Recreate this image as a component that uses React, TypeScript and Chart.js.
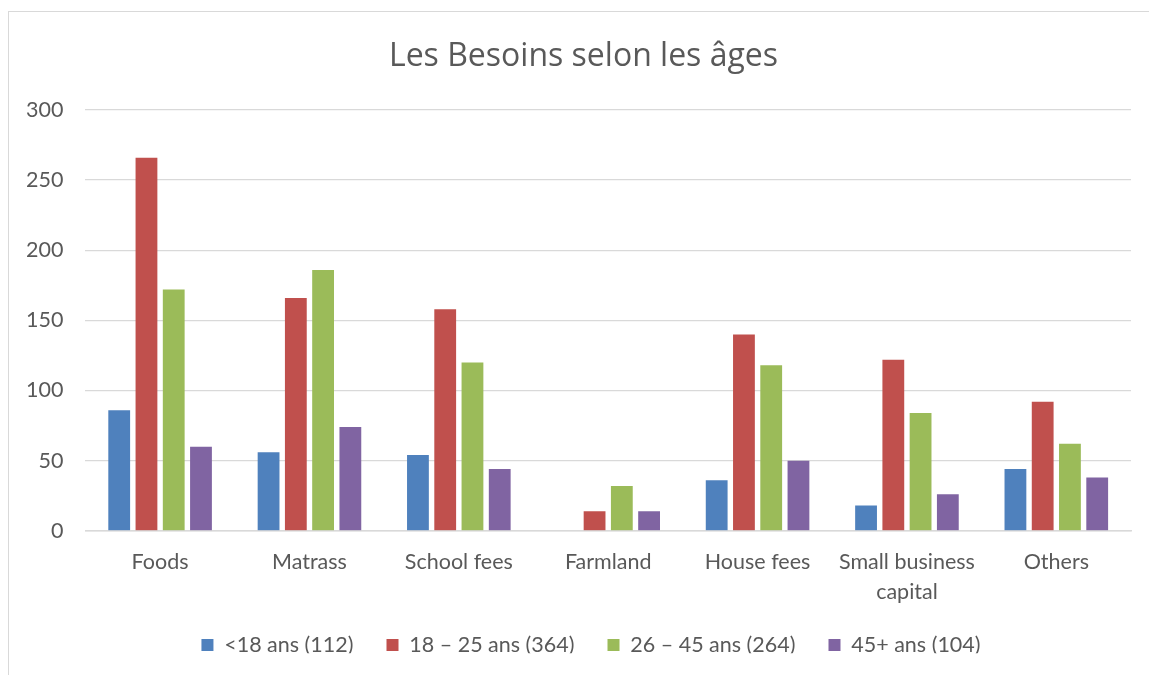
import React, { useEffect, useRef } from "react";
import { Chart, registerables } from "chart.js";

Chart.register(...registerables);

const TITLE = "Les Besoins selon les âges";
const categories: (string | string[])[] = [
  "Foods",
  "Matrass",
  "School fees",
  "Farmland",
  "House fees",
  ["Small business", "capital"],
  "Others",
];
const seriesNames = ["<18 ans (112)", "18 – 25 ans (364)", "26 – 45 ans (264)", "45+ ans (104)"];
const under18 = [86, 56, 54, 0, 36, 18, 44];
const age18to25 = [266, 166, 158, 14, 140, 122, 92];
const age26to45 = [172, 186, 120, 32, 118, 84, 62];
const age45plus = [60, 74, 44, 14, 50, 26, 38];
const colors = ["#4F81BD", "#C0504D", "#9BBB59", "#8064A2"];
const yTicks = [0, 50, 100, 150, 200, 250, 300];

const FONT = "Lato, 'Open Sans', sans-serif";
const TITLE_FONT = "'Open Sans', Lato, sans-serif";
const TEXT = "#595959";
const LEGEND_PAD = 33;
const LEGEND_SIZE = 21.5;

const shiftPlugin = {
  id: "shiftBlocks",
  afterLayout(chart: any) {
    const t = chart.titleBlock;
    if (t) {
      t.left += 16;
      t.right += 16;
    }
    const l = chart.legend;
    if (l) {
      l.left += 23.5;
      l.right += 23.5;
      const h = l.bottom - l.top;
      l.top = 645 - LEGEND_PAD - LEGEND_SIZE / 2;
      l.bottom = l.top + h;
    }
  },
};

export default function App() {
  const ref = useRef<HTMLCanvasElement | null>(null);
  useEffect(() => {
    if (!ref.current) return;
    const values = [under18, age18to25, age26to45, age45plus];
    const chart = new Chart(ref.current, {
      type: "bar",
      data: {
        labels: categories,
        datasets: values.map((v, i) => ({
          label: seriesNames[i],
          data: v,
          backgroundColor: colors[i],
          borderWidth: 0,
          categoryPercentage: 0.73,
          barPercentage: 0.8,
        })),
      },
      plugins: [shiftPlugin],
      options: {
        animation: false,
        responsive: true,
        maintainAspectRatio: false,
        layout: { padding: { top: 20, left: 4, right: 18, bottom: 0 } },
        plugins: {
          title: {
            display: true,
            text: TITLE,
            color: TEXT,
            font: { family: TITLE_FONT, size: 32, weight: "normal" },
            padding: { top: 18, bottom: 33.6 },
          },
          legend: {
            position: "bottom",
            maxHeight: 52,
            labels: {
              color: TEXT,
              font: { family: FONT, size: LEGEND_SIZE },
              boxWidth: 12,
              boxHeight: 12,
              padding: LEGEND_PAD,
            },
          },
          tooltip: { enabled: false },
        },
        scales: {
          x: {
            grid: { display: false, drawTicks: false },
            border: { color: "#D9D9D9", width: 1.5 },
            ticks: {
              color: TEXT,
              font: { family: FONT, size: 21.5, lineHeight: 1.4 },
              padding: 16,
              maxRotation: 0,
            },
          },
          y: {
            min: 0,
            max: 300,
            afterBuildTicks: (axis: any) => {
              axis.ticks = yTicks.map((v) => ({ value: v }));
            },
            grid: { color: "#D9D9D9", drawTicks: false, lineWidth: 1.3 },
            border: { display: false },
            ticks: {
              color: TEXT,
              font: { family: FONT, size: 21.5 },
              padding: 22,
            },
          },
        },
      },
    });
    return () => chart.destroy();
  }, []);
  return (
    <div style={{ position: "absolute", left: 0, top: 0, width: 1149, height: 675, background: "#fff", overflow: "hidden" }}>
      <div
        style={{
          position: "absolute",
          left: 8,
          top: 11,
          width: 1160,
          height: 680,
          border: "1px solid #D9D9D9",
          boxSizing: "border-box",
        }}
      />
      <div style={{ position: "absolute", left: 0, top: 0, width: 1149, height: 675 }}>
        <canvas ref={ref} />
      </div>
    </div>
  );
}
